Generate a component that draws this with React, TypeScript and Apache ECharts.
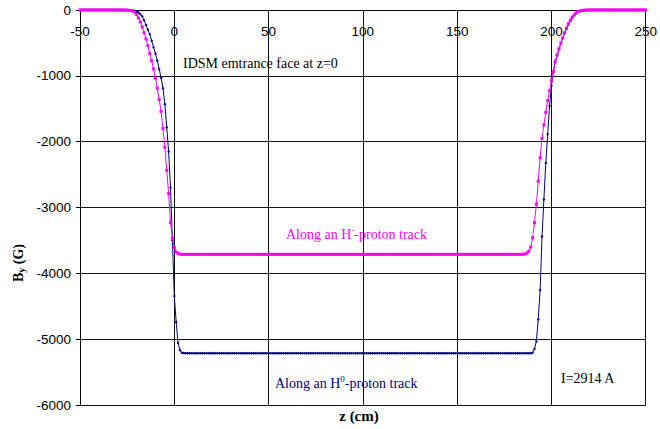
import React, { useEffect, useRef } from "react";
import * as echarts from "echarts";

// z sampling grid: -50 cm to 250 cm, 1 cm step
const Z_START = -50;
const Z_STEP = 1;

const xTicks = { min: -50, max: 250, interval: 50 };
const yTicks = { min: -6000, max: 0, interval: 1000 };

// By (G) along an H- proton track (magenta), z = -50 .. 250
const hMinusBy: number[] = [
  0, 0, 0, 0, 0, 0, 0, 0, 0, 0, 0, 0, 0, 0, 0, 0, 0, 0, 0, 0, 0, 0, -1, -1,
  -2, -3, -5, -9, -17, -35, -70, -120, -182, -258, -345, -440, -540, -660, -770,
  -895, -1035, -1187, -1360, -1540, -1800, -2085, -2435, -2790, -3225, -3465,
  -3608, -3675, -3698, -3707,
  -3712, -3712, -3712, -3712, -3712, -3712, -3712, -3712, -3712, -3712, -3712, -3712, -3712, -3712,
  -3712, -3712, -3712, -3712, -3712, -3712, -3712, -3712, -3712, -3712, -3712, -3712, -3712, -3712,
  -3712, -3712, -3712, -3712, -3712, -3712, -3712, -3712, -3712, -3712, -3712, -3712, -3712, -3712,
  -3712, -3712, -3712, -3712, -3712, -3712, -3712, -3712, -3712, -3712, -3712, -3712, -3712, -3712,
  -3712, -3712, -3712, -3712, -3712, -3712, -3712, -3712, -3712, -3712, -3712, -3712, -3712, -3712,
  -3712, -3712, -3712, -3712, -3712, -3712, -3712, -3712, -3712, -3712, -3712, -3712, -3712, -3712,
  -3712, -3712, -3712, -3712, -3712, -3712, -3712, -3712, -3712, -3712, -3712, -3712, -3712, -3712,
  -3712, -3712, -3712, -3712, -3712, -3712, -3712, -3712, -3712, -3712, -3712, -3712, -3712, -3712,
  -3712, -3712, -3712, -3712, -3712, -3712, -3712, -3712, -3712, -3712, -3712, -3712, -3712, -3712,
  -3712, -3712, -3712, -3712, -3712, -3712, -3712, -3712, -3712, -3712, -3712, -3712, -3712, -3712,
  -3712, -3712, -3712, -3712, -3712, -3712, -3712, -3712, -3712, -3712, -3712, -3712, -3712, -3712,
  -3712, -3712, -3712, -3712, -3712, -3712, -3712, -3712, -3712, -3712, -3712, -3712, -3712, -3712,
  -3712, -3712, -3712, -3712, -3712, -3712, -3712, -3712, -3712, -3712, -3712, -3712, -3712, -3712,
  -3705, -3690, -3665, -3600, -3460, -3230, -2950, -2600, -2245, -1950, -1745,
  -1555, -1375, -1225, -1075, -935, -780, -680, -590, -500, -420, -345, -275,
  -210, -155, -110, -75, -46, -27, -15, -8, -4, -2,
  -1, -1, 0, 0, 0, 0, 0, 0, 0, 0, 0, 0, 0, 0, 0, 0,
  0, 0, 0, 0, 0, 0, 0, 0, 0, 0, 0, 0, 0, 0, 0, 0,
];

// By (G) along an H0 proton track (navy), z = -50 .. 250
const hZeroBy: number[] = [
  0, 0, 0, 0, 0, 0, 0, 0, 0, 0, 0, 0, 0, 0, 0, 0, 0, 0, 0, 0, 0, 0, 0, 0, -1, -1,
  -2, -3, -6, -12, -22, -38, -63, -100, -155, -228, -300, -370, -467, -565, -663,
  -770, -900, -1030, -1190, -1430, -1780, -2152, -2699, -3497, -4343, -4740,
  -5060, -5170, -5205, -5212,
  -5215, -5215, -5215, -5215, -5215, -5215, -5215, -5215, -5215, -5215, -5215, -5215, -5215, -5215,
  -5215, -5215, -5215, -5215, -5215, -5215, -5215, -5215, -5215, -5215, -5215, -5215, -5215, -5215,
  -5215, -5215, -5215, -5215, -5215, -5215, -5215, -5215, -5215, -5215, -5215, -5215, -5215, -5215,
  -5215, -5215, -5215, -5215, -5215, -5215, -5215, -5215, -5215, -5215, -5215, -5215, -5215, -5215,
  -5215, -5215, -5215, -5215, -5215, -5215, -5215, -5215, -5215, -5215, -5215, -5215, -5215, -5215,
  -5215, -5215, -5215, -5215, -5215, -5215, -5215, -5215, -5215, -5215, -5215, -5215, -5215, -5215,
  -5215, -5215, -5215, -5215, -5215, -5215, -5215, -5215, -5215, -5215, -5215, -5215, -5215, -5215,
  -5215, -5215, -5215, -5215, -5215, -5215, -5215, -5215, -5215, -5215, -5215, -5215, -5215, -5215,
  -5215, -5215, -5215, -5215, -5215, -5215, -5215, -5215, -5215, -5215, -5215, -5215, -5215, -5215,
  -5215, -5215, -5215, -5215, -5215, -5215, -5215, -5215, -5215, -5215, -5215, -5215, -5215, -5215,
  -5215, -5215, -5215, -5215, -5215, -5215, -5215, -5215, -5215, -5215, -5215, -5215, -5215, -5215,
  -5215, -5215, -5215, -5215, -5215, -5215, -5215, -5215, -5215, -5215, -5215, -5215, -5215, -5215,
  -5215, -5215, -5215, -5215, -5215, -5215, -5215, -5215, -5215, -5215, -5215, -5215, -5215, -5215,
  -5215, -5215,
  -5205, -5150, -5030, -4700, -4252, -3442, -2879, -2323, -1887, -1460, -1150,
  -930, -790, -690, -600, -505, -430, -358, -285, -220, -165, -120, -82, -52,
  -31, -17, -9, -4, -2,
  -1, -1, 0, 0, 0, 0, 0, 0, 0, 0, 0, 0, 0, 0, 0, 0,
  0, 0, 0, 0, 0, 0, 0, 0, 0, 0, 0, 0, 0, 0, 0, 0,
];

const texts = {
  entrance: "IDSM emtrance face at z=0",
  current: "I=2914 A",
  xTitle: "z (cm)",
};

const SERIF = "'Liberation Serif', 'Times New Roman', serif";
const SANS = "'Liberation Sans', Arial, sans-serif";

function toPairs(values: number[]): [number, number][] {
  return values.map((v, i) => [Z_START + i * Z_STEP, v]);
}

export default function App() {
  const ref = useRef<HTMLDivElement>(null);
  useEffect(() => {
    if (!ref.current) return;
    const chart = echarts.init(ref.current, undefined, { renderer: "svg" });
    const option: any = {
      animation: false,
      backgroundColor: "#fff",
      grid: { left: 80, right: 12, top: 10, bottom: 24, containLabel: false },
      xAxis: {
        type: "value",
        min: xTicks.min,
        max: xTicks.max,
        interval: xTicks.interval,
        position: "top",
        axisLine: { show: true, onZero: false, lineStyle: { color: "#000", width: 1 } },
        axisTick: { show: false },
        axisLabel: {
          inside: true,
          margin: 14,
          color: "#000",
          fontFamily: SANS,
          fontSize: 13.5,
          formatter: (v: number) => String(v),
        },
        splitLine: { show: true, lineStyle: { color: "#111", width: 1 } },
      },
      yAxis: {
        type: "value",
        min: yTicks.min,
        max: yTicks.max,
        interval: yTicks.interval,
        axisLine: { show: true, onZero: false, lineStyle: { color: "#000", width: 1 } },
        axisTick: { show: true, inside: false, length: 4, lineStyle: { color: "#000" } },
        axisLabel: {
          margin: 9,
          color: "#000",
          fontFamily: SANS,
          fontSize: 13.5,
          formatter: (v: number) => String(v),
        },
        splitLine: { show: true, lineStyle: { color: "#111", width: 1 } },
      },
      series: [
        {
          name: "H0",
          type: "line",
          data: toPairs(hZeroBy),
          symbol: "diamond",
          symbolSize: 3,
          showSymbol: true,
          lineStyle: { color: "#000080", width: 1 },
          itemStyle: { color: "#000080" },
          z: 2,
        },
        {
          name: "H-",
          type: "line",
          data: toPairs(hMinusBy),
          symbol: "rect",
          symbolSize: 3,
          showSymbol: true,
          lineStyle: { color: "#FF00FF", width: 1 },
          itemStyle: { color: "#FF00FF" },
          z: 3,
        },
      ],
      graphic: [
        {
          type: "text",
          left: 183,
          top: 56,
          style: { text: texts.entrance, fill: "#000", font: `14px ${SERIF}` },
        },
        {
          type: "text",
          x: 286,
          y: 234,
          style: {
            text: "{t|Along an H}{s|-}{t|-proton track}",
            verticalAlign: "middle",
            rich: {
              t: { fontSize: 14, fontFamily: SERIF, fill: "#FF00FF", lineHeight: 18 },
              s: { fontSize: 9, fontFamily: SERIF, fill: "#FF00FF", lineHeight: 10, verticalAlign: "top" },
            },
          },
        },
        {
          type: "text",
          x: 275,
          y: 383,
          style: {
            text: "{t|Along an H}{s|0}{t|-proton track}",
            verticalAlign: "middle",
            rich: {
              t: { fontSize: 14, fontFamily: SERIF, fill: "#000080", lineHeight: 18 },
              s: { fontSize: 9, fontFamily: SERIF, fill: "#000080", lineHeight: 10, verticalAlign: "top" },
            },
          },
        },
        {
          type: "text",
          x: 561,
          y: 378,
          style: { text: texts.current, fill: "#000", font: `14px ${SERIF}`, verticalAlign: "middle" },
        },
        {
          type: "text",
          x: 359,
          y: 416,
          style: {
            text: texts.xTitle,
            fill: "#000",
            font: `bold 15px ${SERIF}`,
            align: "center",
            verticalAlign: "middle",
          },
        },
        {
          type: "text",
          x: 18,
          y: 263,
          rotation: Math.PI / 2,
          style: {
            text: "{b|B}{s|y}{b| (G)}",
            align: "center",
            verticalAlign: "middle",
            rich: {
              b: { fontSize: 14, fontWeight: "bold", fontFamily: SERIF, fill: "#000", lineHeight: 16 },
              s: { fontSize: 10, fontWeight: "bold", fontFamily: SERIF, fill: "#000", lineHeight: 10, verticalAlign: "bottom" },
            },
          },
        },
      ],
    };
    chart.setOption(option);
    return () => chart.dispose();
  }, []);
  return <div ref={ref} style={{ width: 660, height: 429, position: "absolute", left: 0, top: 0 }} />;
}
